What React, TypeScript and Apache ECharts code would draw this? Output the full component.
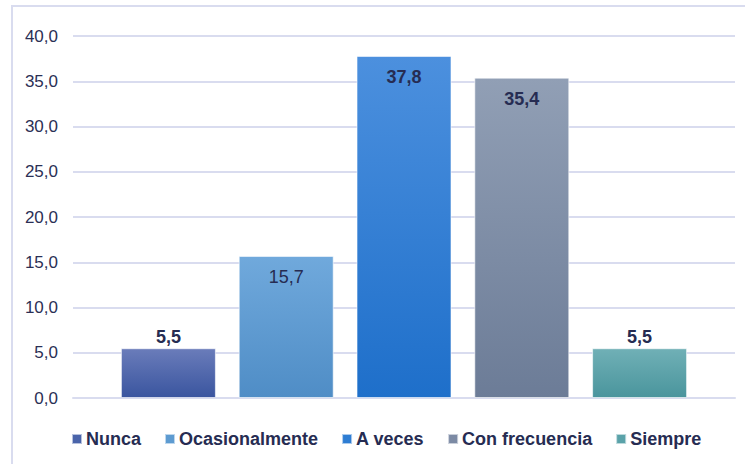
import React, { useEffect, useRef } from "react";
import * as echarts from "echarts";

const categories = ["Nunca", "Ocasionalmente", "A veces", "Con frecuencia", "Siempre"];
const values = [5.5, 15.7, 37.8, 35.4, 5.5];
const topColors = ["#6a7cba", "#70a9dc", "#4c90de", "#919fb5", "#70b0b6"];
const bottomColors = ["#3a559f", "#4f8dc6", "#1e6fca", "#6c7c97", "#4a959d"];
const legendColors = ["#4a64aa", "#5d9bd1", "#2e7dd3", "#7c8aa4", "#5aa2a9"];
const labelPositions = ["top", "insideTop", "insideTop", "insideTop", "top"];
const labelBold = [true, false, true, true, true];
const yTicks = { min: 0, max: 40, interval: 5 };

const fmt = (v: number) => v.toFixed(1).replace(".", ",");

export default function App() {
  const ref = useRef<HTMLDivElement>(null);
  useEffect(() => {
    if (!ref.current) return;
    const chart = echarts.init(ref.current, undefined, { renderer: "svg" });
    const font = "'Liberation Sans', Arial, sans-serif";
    const series = categories.map((name, i) => ({
      name,
      type: "bar",
      data: [values[i]],
      barWidth: 95,
      barGap: "24%",
      itemStyle: {
        color: new echarts.graphic.LinearGradient(0, 0, 0, 1, [
          { offset: 0, color: topColors[i] },
          { offset: 1, color: bottomColors[i] },
        ]),
        borderColor: "rgba(255,255,255,0.6)",
        borderWidth: 1,
      },
      label: {
        show: true,
        position: labelPositions[i],
        distance: labelPositions[i] === "top" ? 2 : 12,
        formatter: (p: any) => fmt(p.value),
        color: "#262c52",
        fontFamily: font,
        fontSize: 18,
        fontWeight: labelBold[i] ? "bold" : "normal",
      },
    }));
    chart.setOption({
      animation: false,
      color: legendColors,
      graphic: [
        {
          type: "rect",
          shape: { x: 12, y: 6, width: 760, height: 480 },
          style: { fill: "none", stroke: "#d9dcef", lineWidth: 2 },
          silent: true,
        },
      ],
      grid: { left: 73, right: 10, top: 36, bottom: 66 },
      legend: {
        bottom: 16,
        left: 71,
        padding: 0,
        itemWidth: 10,
        itemHeight: 10,
        itemGap: 23,
        icon: "rect",
        textStyle: { color: "#262c52", fontFamily: font, fontSize: 18, fontWeight: "bold", padding: [0, 0, 0, -1] },
        data: categories.map((name, i) => ({ name, itemStyle: { color: legendColors[i] } })),
      },
      xAxis: {
        type: "category",
        data: [""],
        axisLine: { lineStyle: { color: "#d9dcef", width: 2 } },
        axisTick: { show: false },
        axisLabel: { show: false },
      },
      yAxis: {
        type: "value",
        min: yTicks.min,
        max: yTicks.max,
        interval: yTicks.interval,
        axisLine: { show: false },
        axisTick: { show: false },
        splitLine: { lineStyle: { color: "#d9dcef", width: 2 } },
        axisLabel: {
          formatter: (v: number) => fmt(v),
          color: "#2b2f55",
          fontFamily: font,
          fontSize: 17,
          margin: 15,
        },
      },
      series,
    });
    return () => chart.dispose();
  }, []);
  return (
    <div
      ref={ref}
      style={{ position: "fixed", left: 0, top: 0, width: 745, height: 464, background: "#fff" }}
    />
  );
}
